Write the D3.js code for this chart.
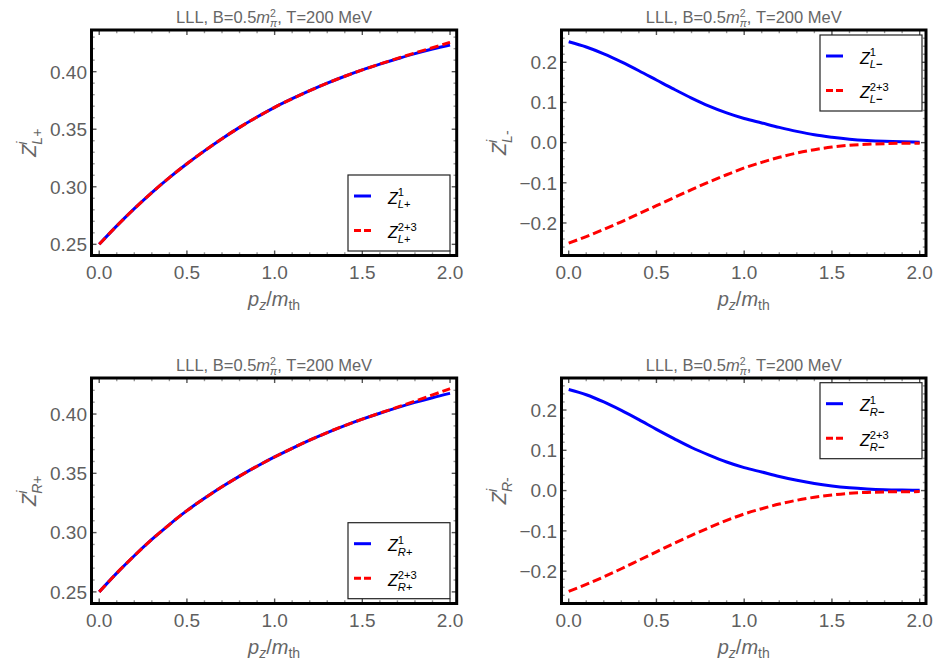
<!DOCTYPE html>
<html><head><meta charset="utf-8">
<script src="https://cdn.jsdelivr.net/npm/d3@7"></script>
<style>
body{margin:0;background:#fff}
svg{display:block}
text{font-family:"Liberation Sans",Arial,sans-serif}
</style>
</head><body>
<svg id="c" width="933" height="665"></svg>
<script>
// ---- data ----
const pz = [0,0.1,0.2,0.3,0.4,0.5,0.6,0.7,0.8,0.9,1.0,1.1,1.2,1.3,1.4,1.5,1.6,1.7,1.8,1.9,2.0];

const zLplus1   = [0.2500,0.2660,0.2810,0.2950,0.3080,0.3200,0.3312,0.3418,0.3516,0.3606,0.3690,0.3765,0.3835,0.3900,0.3960,0.4015,0.4065,0.4112,0.4157,0.4197,0.4232];
const zLplus23  = [0.2500,0.2660,0.2810,0.2950,0.3080,0.3200,0.3312,0.3418,0.3516,0.3606,0.3690,0.3765,0.3835,0.3900,0.3960,0.4015,0.4066,0.4115,0.4163,0.4208,0.4255];

const zLminus1  = [0.251,0.238,0.221,0.201,0.179,0.156,0.133,0.111,0.091,0.074,0.060,0.049,0.038,0.028,0.0195,0.0135,0.0087,0.0054,0.0032,0.0019,0.0012];
const zLminus23 = [-0.250,-0.234,-0.216,-0.197,-0.177,-0.157,-0.137,-0.117,-0.098,-0.080,-0.063,-0.049,-0.0365,-0.026,-0.0175,-0.011,-0.0065,-0.004,-0.0025,-0.0017,-0.0015];

const zRplus1   = [0.2500,0.2658,0.2805,0.2942,0.3068,0.3185,0.3289,0.3386,0.3476,0.3560,0.3638,0.3711,0.3780,0.3844,0.3903,0.3957,0.4007,0.4054,0.4098,0.4138,0.4175];
const zRplus23  = [0.2500,0.2658,0.2805,0.2942,0.3068,0.3185,0.3289,0.3386,0.3476,0.3560,0.3638,0.3711,0.3780,0.3844,0.3903,0.3957,0.4008,0.4058,0.4109,0.4161,0.4214];

const zRminus1  = [0.251,0.238,0.220,0.199,0.176,0.152,0.129,0.107,0.088,0.071,0.057,0.046,0.035,0.0255,0.0175,0.0115,0.0072,0.0042,0.0022,0.0012,0.0006];
const zRminus23 = [-0.250,-0.233,-0.214,-0.194,-0.173,-0.152,-0.131,-0.111,-0.092,-0.074,-0.058,-0.045,-0.0335,-0.024,-0.0165,-0.0108,-0.0068,-0.0045,-0.0033,-0.0028,-0.0025];

const xTicks = [0,0.5,1.0,1.5,2.0];
const yTicksPlus = [0.25,0.30,0.35,0.40];
const yTicksMinus = [-0.2,-0.1,0.0,0.1,0.2];
const seriesSup = ["1","2+3"];

// ---- layout ----
const panels = [
  {fx:[91.5,456.7], fy:[30,255.5], xd:[-0.044,2.038], yd:[0.2403,0.4362], b:zLplus1, r:zLplus23, yt:yTicksPlus, ymin:0.01, yf:".2f", sub:"L", sign:"+", leg:[348,175]},
  {fx:[561.5,926], fy:[30,255.5], xd:[-0.041,2.036], yd:[-0.281,0.2804], b:zLminus1, r:zLminus23, yt:yTicksMinus, ymin:0.02, yf:".1f", sub:"L", sign:"-", leg:[820,35]},
  {fx:[91.5,456.7], fy:[378,603.5], xd:[-0.044,2.038], yd:[0.2402,0.4304], b:zRplus1, r:zRplus23, yt:yTicksPlus, ymin:0.01, yf:".2f", sub:"R", sign:"+", leg:[348,522.7]},
  {fx:[561.5,926], fy:[378,603.5], xd:[-0.041,2.036], yd:[-0.2803,0.2795], b:zRminus1, r:zRminus23, yt:yTicksMinus, ymin:0.02, yf:".1f", sub:"R", sign:"-", leg:[820,382.7]}
];

const svg = d3.select("#c");
const gray = "#5f5f5f";

function zText(t, sup, sub, sign, fs, legendMinus, supItalic){
  t.append("tspan").text("Z").style("font-style","italic");
  const s1 = t.append("tspan").text(sup).style("font-size",(fs*0.7)+"px").attr("dy",-fs*0.45);
  if (supItalic) s1.style("font-style","italic");
  const w = s1.node().getComputedTextLength();
  const s2 = t.append("tspan").attr("dx",-w).attr("dy",fs*0.75).style("font-size",(fs*0.7)+"px");
  s2.append("tspan").text(sub).style("font-style","italic");
  const sg = s2.append("tspan").text(sign === "+" ? "+" : (legendMinus ? "\u2212" : "-"));
  if (sign !== "+" && legendMinus) sg.style("font-weight","bold");
}

panels.forEach((p,pi)=>{
  const g = svg.append("g");
  const x = d3.scaleLinear().domain(p.xd).range(p.fx);
  const y = d3.scaleLinear().domain(p.yd).range([p.fy[1],p.fy[0]]);
  const [x0,x1] = p.fx, [y0,y1] = p.fy;

  // ticks (inside frame, all four sides)
  const xMinor = d3.range(0,2.0001,0.1);
  const yLo = Math.ceil(p.yd[0]/p.ymin - 1e-9)*p.ymin;
  const yMinor = d3.range(yLo, p.yd[1], p.ymin);
  const isMajX = v => xTicks.some(t=>Math.abs(t-v)<1e-6);
  const isMajY = v => p.yt.some(t=>Math.abs(t-v)<1e-6);
  xMinor.forEach(v=>{
    const L = isMajX(v)?5:3.2, c = isMajX(v)?"#555":"#999";
    g.append("line").attr("x1",x(v)).attr("x2",x(v)).attr("y1",y1).attr("y2",y1-L).attr("stroke",c).attr("stroke-width",1.4);
    g.append("line").attr("x1",x(v)).attr("x2",x(v)).attr("y1",y0).attr("y2",y0+L).attr("stroke",c).attr("stroke-width",1.4);
  });
  yMinor.forEach(v=>{
    const L = isMajY(v)?5:3.2, c = isMajY(v)?"#555":"#999";
    g.append("line").attr("y1",y(v)).attr("y2",y(v)).attr("x1",x0).attr("x2",x0+L).attr("stroke",c).attr("stroke-width",1.4);
    g.append("line").attr("y1",y(v)).attr("y2",y(v)).attr("x1",x1).attr("x2",x1-L).attr("stroke",c).attr("stroke-width",1.4);
  });

  // clip
  const cid = "clip"+pi;
  svg.append("clipPath").attr("id",cid).append("rect").attr("x",x0).attr("y",y0).attr("width",x1-x0).attr("height",y1-y0);

  const line = d3.line().x((d,i)=>x(pz[i])).y(d=>y(d)).curve(d3.curveMonotoneX);
  const cg = g.append("g").attr("clip-path",`url(#${cid})`);
  cg.append("path").attr("d",line(p.b)).attr("fill","none").attr("stroke","#0000ff").attr("stroke-width",3);
  cg.append("path").attr("d",line(p.r)).attr("fill","none").attr("stroke","#ff0000").attr("stroke-width",3).attr("stroke-dasharray","9,4");

  // frame
  g.append("rect").attr("x",x0).attr("y",y0).attr("width",x1-x0).attr("height",y1-y0).attr("fill","none").attr("stroke","#000").attr("stroke-width",3);

  // tick labels
  const fx = d3.format(".1f"), fy = d3.format(p.yf);
  xTicks.forEach(v=>{
    g.append("text").attr("x",x(v)).attr("y",y1+23).attr("text-anchor","middle").attr("fill",gray).style("font-size","19px").text(fx(v));
  });
  p.yt.forEach(v=>{
    g.append("text").attr("x",x0-4.5).attr("y",y(v)).attr("dy","0.36em").attr("text-anchor","end").attr("fill",gray).style("font-size","19px").text(fy(v));
  });

  // title
  const cx = (x0+x1)/2;
  const t = g.append("text").attr("x",cx).attr("y",y0-7.5).attr("text-anchor","middle").attr("fill","#666").style("font-size","16.5px");
  t.append("tspan").text("LLL, B=0.5");
  t.append("tspan").text("m").style("font-style","italic");
  const s2 = t.append("tspan").text("2").style("font-size","10.5px").attr("dy",-5.5);
  const w2 = s2.node().getComputedTextLength();
  t.append("tspan").text("\u03c0").style("font-size","10.5px").style("font-style","italic").attr("dx",-w2).attr("dy",10);
  t.append("tspan").text(", T=200 MeV").attr("dy",-4.5);

  // x label
  const xl = g.append("text").attr("x",cx).attr("y",y1+50).attr("text-anchor","middle").attr("fill","#666").style("font-size","20px");
  xl.append("tspan").text("p").style("font-style","italic");
  xl.append("tspan").text("z").style("font-style","italic").style("font-size","14px").attr("dy",4);
  xl.append("tspan").text("/").attr("dy",-4);
  xl.append("tspan").text("m").style("font-style","italic");
  xl.append("tspan").text("th").style("font-size","14px").attr("dy",4);

  // y label
  const yl = g.append("text").attr("transform",`translate(${x0-56},${(y0+y1)/2}) rotate(-90)`).attr("text-anchor","middle").attr("fill","#666").style("font-size","20px");
  zText(yl,"i",p.sub,p.sign,20,false,true);

  // legend
  const [lx,ly] = p.leg;
  const lg = g.append("g");
  lg.append("rect").attr("x",lx).attr("y",ly).attr("width",102).attr("height",76).attr("fill","#fff").attr("stroke","#222").attr("stroke-width",1.2);
  [p.b,p.r].forEach((s,k)=>{
    const yy = ly + (k===0?21:55.5);
    lg.append("line").attr("x1",lx+6).attr("x2",lx+23).attr("y1",yy).attr("y2",yy)
      .attr("stroke",k===0?"#0000ff":"#ff0000").attr("stroke-width",3).attr("stroke-dasharray",k===0?null:"7,3");
    const tt = lg.append("text").attr("x",lx+40).attr("y",yy+7.5).attr("fill","#000").style("font-size","16px");
    zText(tt,seriesSup[k],p.sub,p.sign,16,true,false);
  });
});
</script>
</body></html>
